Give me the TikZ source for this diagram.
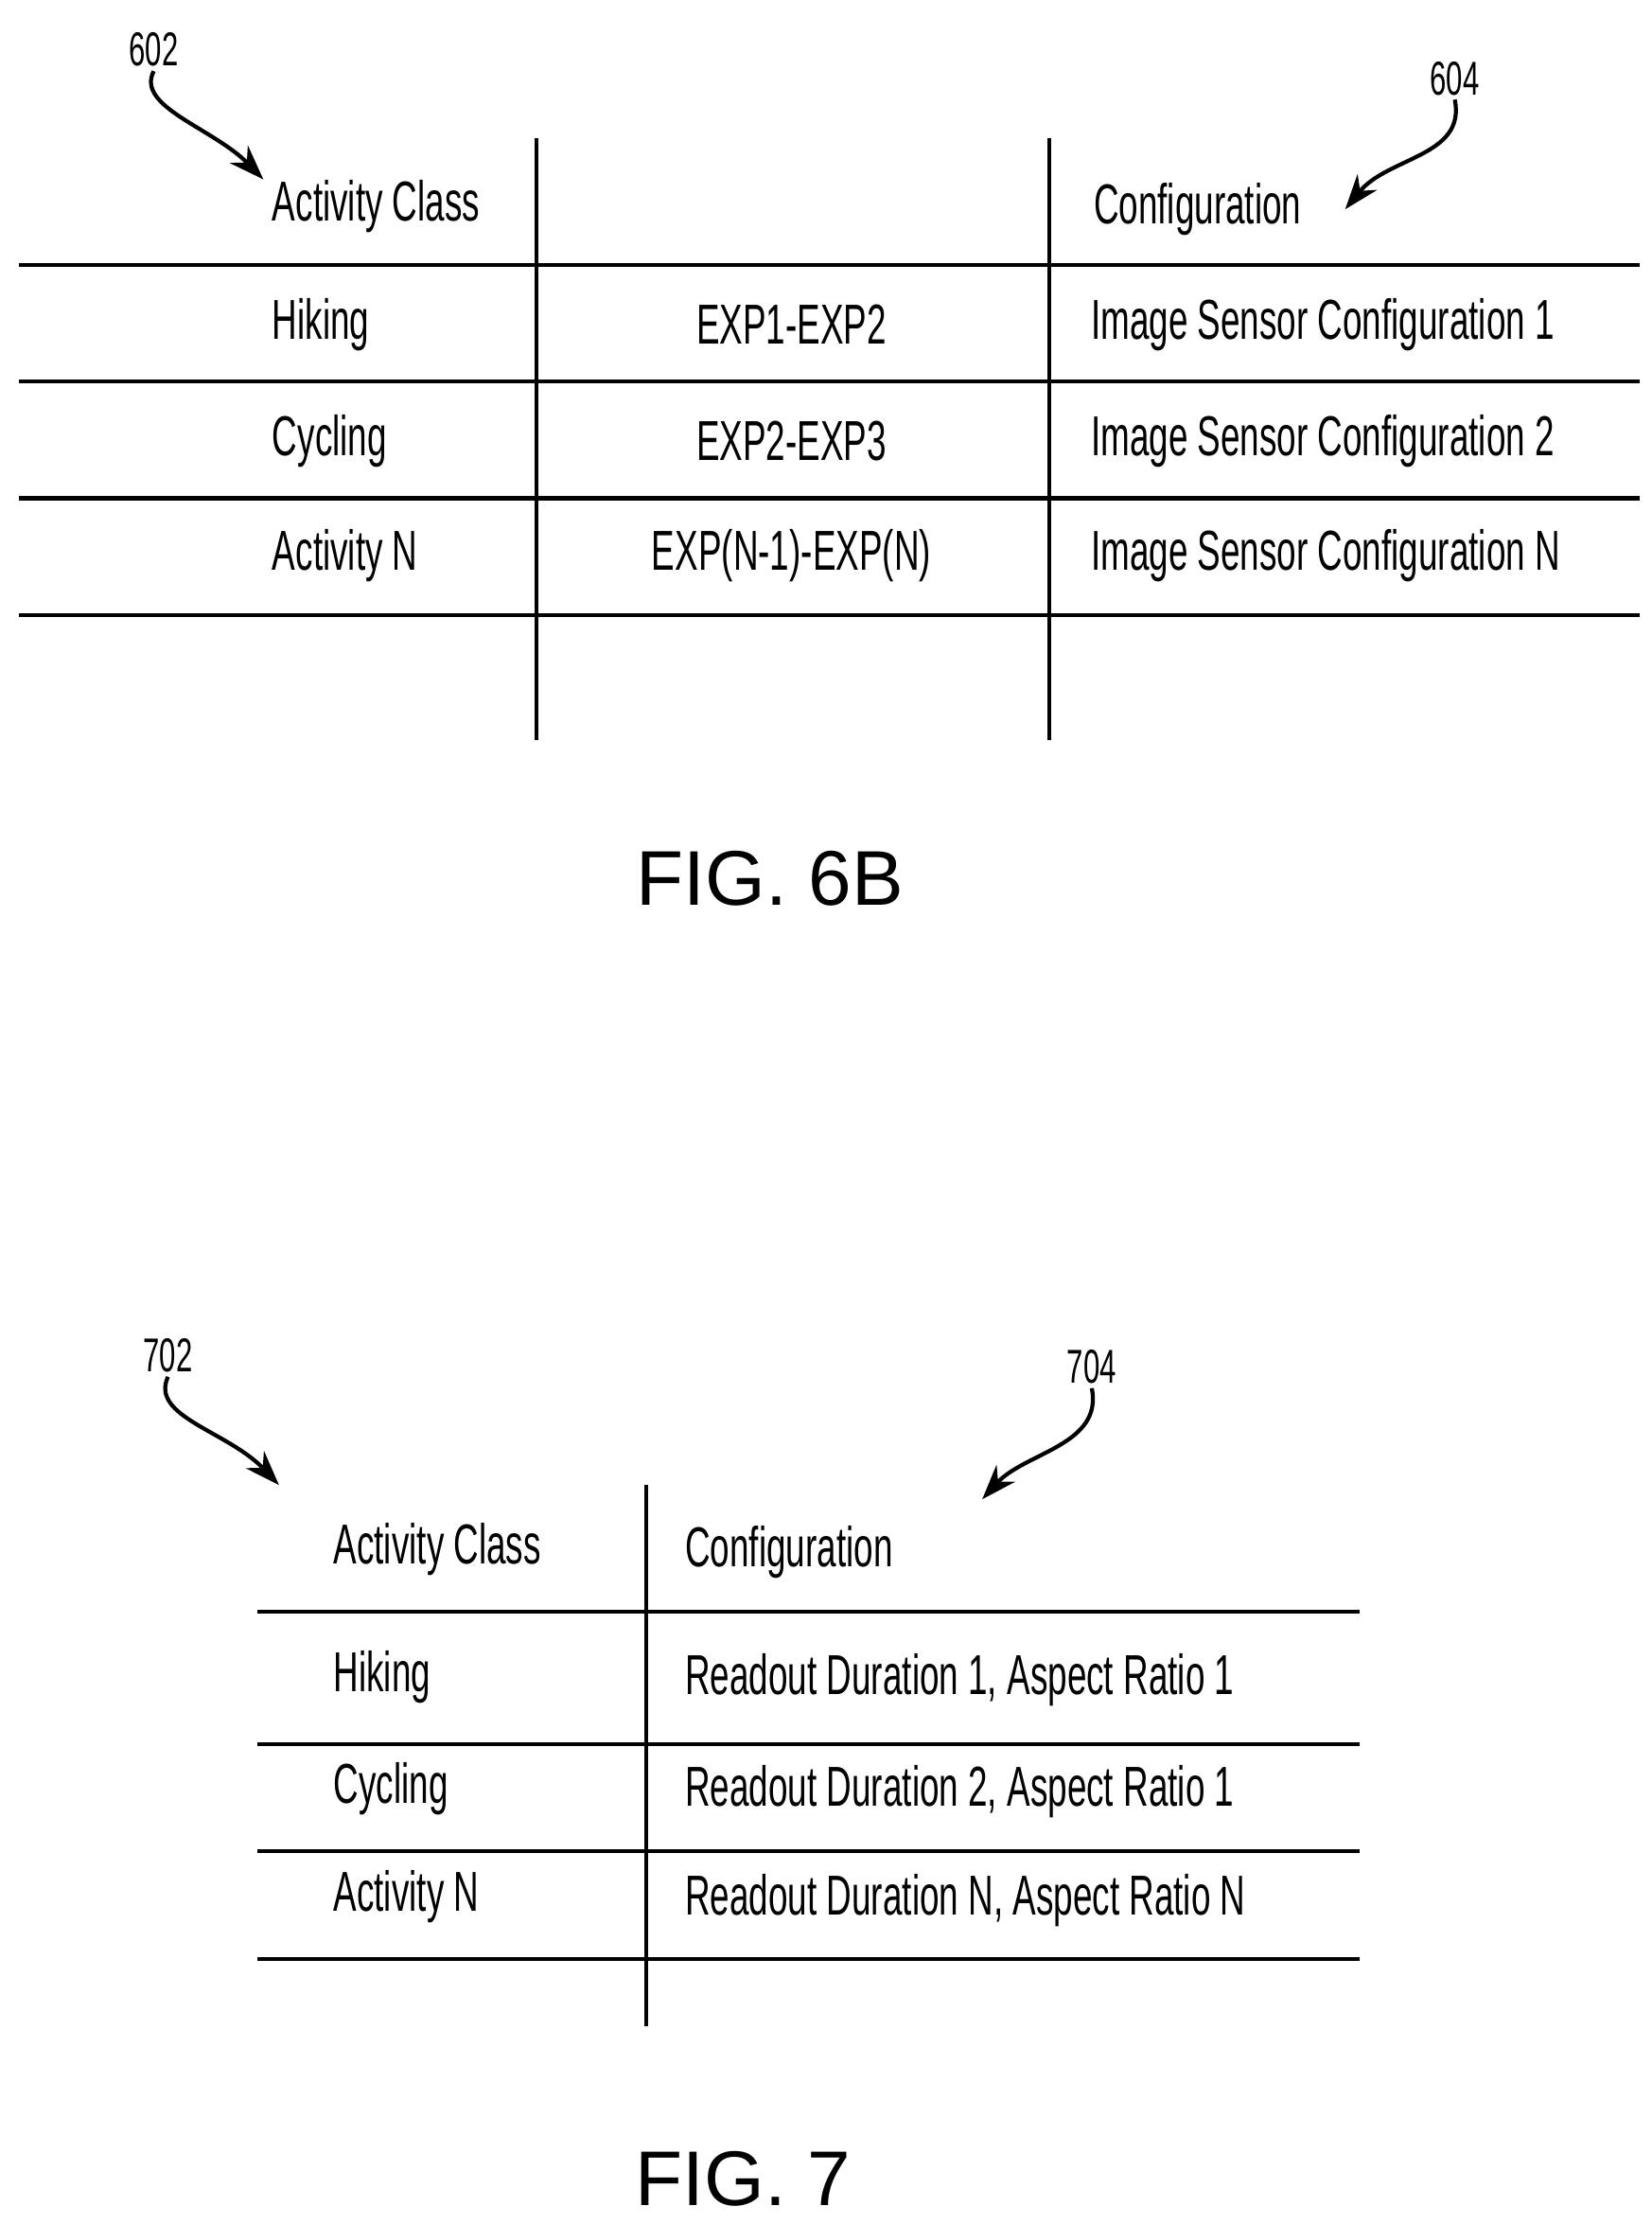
\documentclass[tikz,border=0pt]{standalone}
\usepackage{fontspec}
\setmainfont{Liberation Sans}[FakeStretch=0.62]
\newfontfamily\figfont{Liberation Sans}
\usetikzlibrary{arrows.meta, positioning}

\begin{document}
\begin{tikzpicture}[x=0.02cm, y=-0.02cm, thick, line width=1.6pt]
    % Styles for cells, reference labels and arrows
    \tikzset{cell/.style={anchor=west, inner sep=0pt, font=\fontsize{22.5}{24}\selectfont},
             mid/.style={inner sep=0pt, font=\fontsize{22.5}{24}\selectfont},
             refnum/.style={inner sep=1pt, font=\fontsize{19}{21}\selectfont},
             caption/.style={font=\figfont\fontsize{31}{34}\selectfont},
             refarrow/.style={line width=1.6pt, -{Stealth[length=14pt, width=10pt]}}}
    \useasboundingbox (0,0) rectangle (1160,1562);

    % Table of FIG. 6B
    \foreach \y in {186,268,350,432} \draw (13,\y) -- (1152,\y);
    \foreach \x in {377,737} \draw (\x,97) -- (\x,520);
    \node[cell] (head6a) at (190,145) {Activity Class};
    \node[cell] (head6c) at (767,147) {Configuration};
    \node[cell] (hike6) at (190,228) {Hiking};
    \node[cell] (cycl6) at (190,310) {Cycling};
    \node[cell] (actn6) at (190,390) {Activity N};
    \node[mid] (exp12) at (556,228) {EXP1-EXP2};
    \node[mid] (exp23) at (556,310) {EXP2-EXP3};
    \node[mid] (expn) at (556,390) {EXP(N-1)-EXP(N)};
    \node[cell] (conf61) at (765,228) {Image Sensor Configuration 1};
    \node[cell] (conf62) at (765,310) {Image Sensor Configuration 2};
    \node[cell] (conf6n) at (765,390) {Image Sensor Configuration N};

    % Reference numerals
    \node[refnum] (r602) at (108,35) {602};
    \node[refnum] (r604) at (1022,55) {604};
    \coordinate (t602) at (185,126);
    \coordinate (t604) at (945,147);
    \draw[refarrow] (r602.south) .. controls (95,75) and (150,90) .. (t602);
    \draw[refarrow] (r604.south) .. controls (1030,110) and (975,110) .. (t604);
    \node[caption] (fig6b) at (541,617) {FIG. 6B};

    % Table of FIG. 7
    \foreach \y in {1132,1225,1300,1376} \draw (181,\y) -- (955,\y);
    \draw (454,1043) -- (454,1423);
    \node[cell] (head7a) at (233,1088) {Activity Class};
    \node[cell] (head7c) at (480,1090) {Configuration};
    \node[cell] (hike7) at (233,1178) {Hiking};
    \node[cell] (cycl7) at (233,1256) {Cycling};
    \node[cell] (actn7) at (233,1332) {Activity N};
    \node[cell] (conf71) at (480,1180) {Readout Duration 1, Aspect Ratio 1};
    \node[cell] (conf72) at (480,1258) {Readout Duration 2, Aspect Ratio 1};
    \node[cell] (conf7n) at (480,1335) {Readout Duration N, Aspect Ratio N};

    \node[refnum] (r702) at (118,952) {702};
    \node[refnum] (r704) at (767,960) {704};
    \coordinate (t702) at (196,1043);
    \coordinate (t704) at (690,1053);
    \draw[refarrow] (r702.south) .. controls (105,995) and (160,1005) .. (t702);
    \draw[refarrow] (r704.south) .. controls (775,1015) and (720,1020) .. (t704);
    \node[caption] (fig7) at (522,1530) {FIG. 7};
\end{tikzpicture}
\end{document}
